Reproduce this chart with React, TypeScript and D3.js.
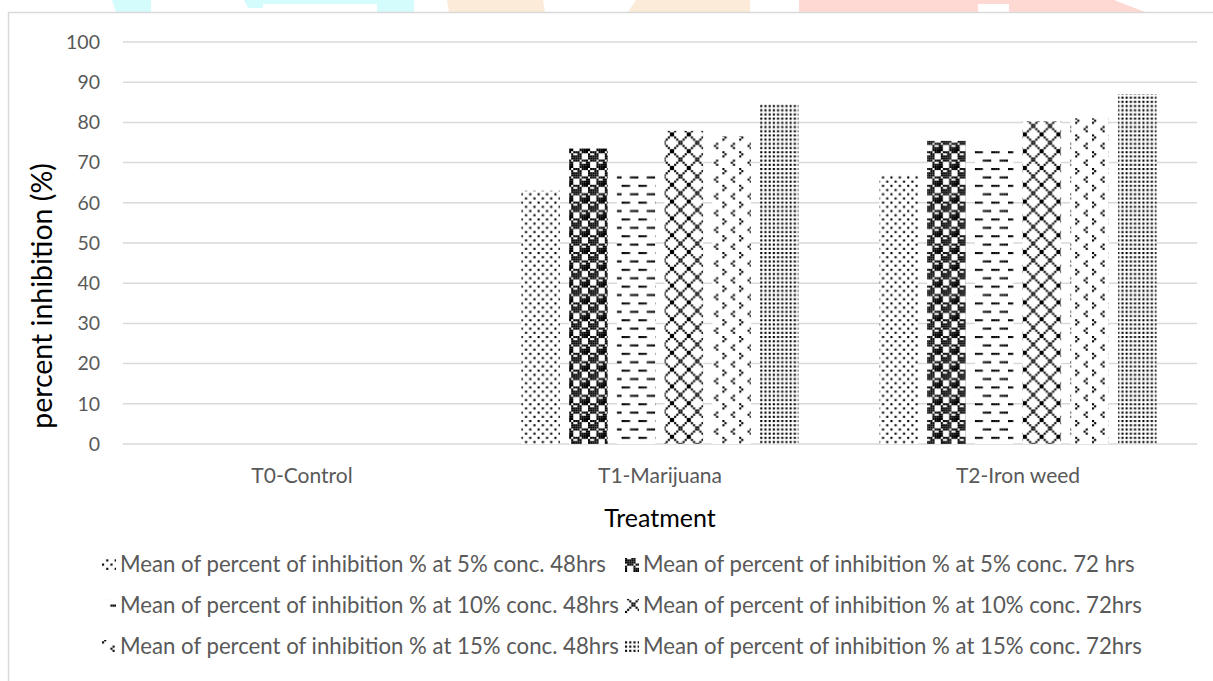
import React, { useEffect, useRef } from "react";
import * as d3 from "d3";

const width = 1213;
const height = 681;
const margin = { top: 42, right: 16, bottom: 237, left: 123 };

const categories = ["T0-Control", "T1-Marijuana", "T2-Iron weed"];
const seriesLabels = [
  "Mean of percent of inhibition % at 5% conc. 48hrs",
  "Mean of percent of inhibition % at 5% conc. 72 hrs",
  "Mean of percent of inhibition % at 10% conc. 48hrs",
  "Mean of percent of inhibition % at 10% conc. 72hrs",
  "Mean of percent of inhibition % at 15% conc. 48hrs",
  "Mean of percent of inhibition % at 15% conc. 72hrs",
];
const conc5h48 = [0, 63.0, 66.9];
const conc5h72 = [0, 73.5, 75.4];
const conc10h48 = [0, 67.2, 73.1];
const conc10h72 = [0, 77.9, 80.3];
const conc15h48 = [0, 76.6, 81.0];
const conc15h72 = [0, 84.5, 87.0];
const yTicks = [0, 10, 20, 30, 40, 50, 60, 70, 80, 90, 100];

// excel style 8x8 pattern bitmaps
const bitmaps = [
  ["10001000", "00000000", "00100010", "00000000", "10001000", "00000000", "00100010", "00000000"],
  ["01110111", "10011000", "11111000", "11111000", "01110111", "10001001", "10001111", "10001111"],
  ["11110000", "00000000", "00000000", "00000000", "00001111", "00000000", "00000000", "00000000"],
  ["10000001", "01000010", "00100100", "00011000", "00011000", "00100100", "01000010", "10000001"],
  ["10000000", "01000000", "10000000", "00000000", "00000100", "00001000", "00000100", "00000000"],
  ["10101010", "00000000", "10101010", "00000000", "10101010", "00000000", "10101010", "00000000"],
];
const px = 2.1;

const font = "Lato, 'Open Sans', sans-serif";
const gray = "#595959";

const App = () => {
  const ref = useRef<SVGSVGElement>(null);

  useEffect(() => {
    const svg = d3.select(ref.current);
    svg.selectAll("*").remove();

    const series = [conc5h48, conc5h72, conc10h48, conc10h72, conc15h48, conc15h72];

    const defs = svg.append("defs");
    bitmaps.forEach((rows, i) => {
      const p = defs
        .append("pattern")
        .attr("id", `pat${i}`)
        .attr("patternUnits", "userSpaceOnUse")
        .attr("width", 8 * px)
        .attr("height", 8 * px);
      p.append("rect").attr("width", 8 * px).attr("height", 8 * px).attr("fill", "#fff");
      rows.forEach((row, r) => {
        row.split("").forEach((b, c) => {
          if (b === "1")
            p.append("rect")
              .attr("x", c * px)
              .attr("y", r * px)
              .attr("width", px)
              .attr("height", px)
              .attr("fill", "#000");
        });
      });
    });

    // watermark bits peeking above the frame
    const wm = svg.append("g");
    wm.append("polygon").attr("points", "112,0 151,0 151,12 116,12").attr("fill", "#d4fcfc");
    wm.append("polygon").attr("points", "244,0 414,0 414,12 377,12 377,4 263,4 263,8 248,8").attr("fill", "#d4fcfc");
    wm.append("polygon").attr("points", "447,0 543,0 545,12 449,12").attr("fill", "#fdebd9");
    wm.append("polygon").attr("points", "636,0 750,0 750,12 628,12").attr("fill", "#fdebd9");
    wm.append("polygon").attr("points", "799,0 1114,0 1145,12 1009,12 1009,4 978,4 978,12 799,12").attr("fill", "#fed9d3");

    // outer frame
    svg
      .append("rect")
      .attr("x", 8.5)
      .attr("y", 12.5)
      .attr("width", width + 20)
      .attr("height", height + 20)
      .attr("fill", "none")
      .attr("stroke", "#d9d9d9")
      .attr("stroke-width", 1.5);

    const x = d3
      .scaleBand()
      .domain(categories)
      .range([margin.left, width - margin.right]);

    const groupW = x.bandwidth() * 0.774;
    const xs = d3
      .scaleBand()
      .domain(d3.range(series.length).map(String))
      .range([-groupW / 2, groupW / 2])
      .paddingInner(0.193);

    const y = d3
      .scaleLinear()
      .domain([0, 100])
      .range([height - margin.bottom, margin.top]);

    // gridlines
    svg
      .append("g")
      .selectAll("line")
      .data(yTicks)
      .join("line")
      .attr("x1", margin.left)
      .attr("x2", width - margin.right)
      .attr("y1", (d) => y(d))
      .attr("y2", (d) => y(d))
      .attr("stroke", "#d9d9d9")
      .attr("stroke-width", 1.5);

    // y tick labels
    svg
      .append("g")
      .selectAll("text")
      .data(yTicks)
      .join("text")
      .attr("x", 100)
      .attr("y", (d) => y(d))
      .attr("dy", "0.35em")
      .attr("text-anchor", "end")
      .attr("font-family", font)
      .attr("font-size", 19.5)
      .attr("fill", gray)
      .text((d) => d);

    // bars
    series.forEach((vals, si) => {
      svg
        .append("g")
        .selectAll("rect")
        .data(vals)
        .join("rect")
        .attr("x", (d, i) => x(categories[i])! + x.bandwidth() / 2 + xs(String(si))!)
        .attr("width", xs.bandwidth())
        .attr("y", (d) => y(d))
        .attr("height", (d) => y(0) - y(d))
        .attr("fill", `url(#pat${si})`);
    });

    // category labels
    svg
      .append("g")
      .selectAll("text")
      .data(categories)
      .join("text")
      .attr("x", (d) => x(d)! + x.bandwidth() / 2)
      .attr("y", 483)
      .attr("text-anchor", "middle")
      .attr("font-family", font)
      .attr("font-size", 21)
      .attr("fill", gray)
      .text((d) => d);

    // axis titles
    svg
      .append("text")
      .attr("x", x(categories[1])! + x.bandwidth() / 2)
      .attr("y", 527)
      .attr("text-anchor", "middle")
      .attr("font-family", font)
      .attr("font-size", 25)
      .attr("fill", "#000")
      .text("Treatment");

    svg
      .append("text")
      .attr("transform", `translate(52, 296) rotate(-90)`)
      .attr("text-anchor", "middle")
      .attr("font-family", font)
      .attr("font-size", 28.5)
      .attr("fill", "#000")
      .text("percent inhibition (%)");

    // legend
    const colX = [102, 625];
    const rowY = [572, 613, 654];
    const lg = svg
      .append("g")
      .selectAll("g")
      .data(seriesLabels)
      .join("g")
      .attr("transform", (d, i) => `translate(${colX[i % 2]}, ${rowY[Math.floor(i / 2)]})`);
    lg.append("rect")
      .attr("x", 0)
      .attr("y", -14)
      .attr("width", 14)
      .attr("height", 14)
      .attr("fill", (d, i) => `url(#pat${i})`);
    lg.append("text")
      .attr("x", 18)
      .attr("y", 0)
      .attr("font-family", font)
      .attr("font-size", 22.2)
      .attr("fill", gray)
      .text((d) => d);
  }, []);

  return (
    <svg
      ref={ref}
      width={width}
      height={height}
      style={{ position: "absolute", left: 0, top: 0, background: "#fff" }}
    />
  );
};

export default App;
